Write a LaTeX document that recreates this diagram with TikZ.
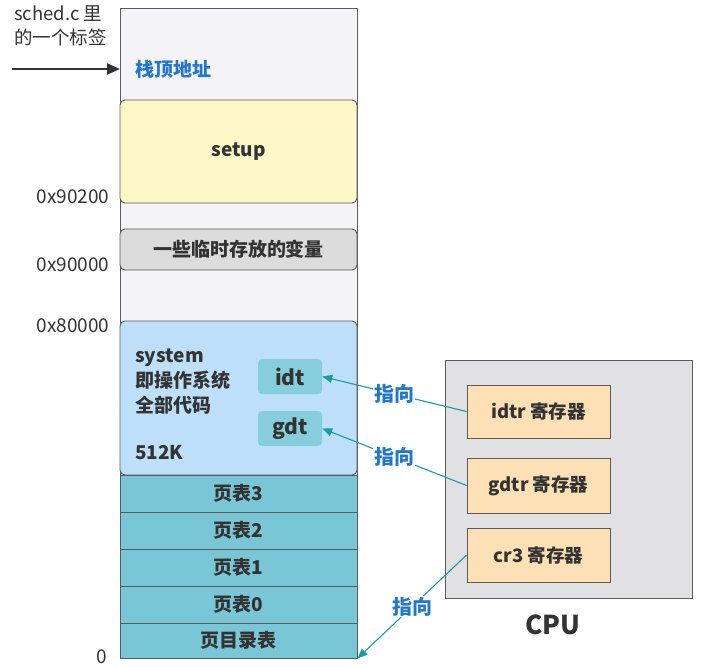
\documentclass[tikz,border=0pt]{standalone}
\usepackage{fontspec}
\setmainfont{Noto Sans CJK SC}
\usetikzlibrary{arrows.meta}
\definecolor{colbg}{HTML}{F4F4F6}
\definecolor{setupc}{HTML}{FDF6C6}
\definecolor{tempc}{HTML}{DCDCDD}
\definecolor{sysc}{HTML}{BEDFFA}
\definecolor{tblc}{HTML}{79C6D6}
\definecolor{dtc}{HTML}{86CEDC}
\definecolor{cpuc}{HTML}{E1E1E4}
\definecolor{regc}{HTML}{FDE0B5}
\definecolor{bordc}{HTML}{5A5A5F}
\definecolor{arrc}{HTML}{1B9AA8}
\definecolor{bluet}{HTML}{2277CC}
\definecolor{txt}{HTML}{333333}
\begin{document}
\begin{tikzpicture}[x=1pt,y=-1pt,
  blk/.style={draw=bordc,line width=0.9pt,rounded corners=5pt,minimum width=237pt,inner sep=0pt,font=\bfseries\fontsize{19}{21}\selectfont,text=txt},
  row/.style={draw=bordc,line width=0.9pt,fill=tblc,minimum width=237pt,inner sep=0pt,font=\bfseries\fontsize{19}{21}\selectfont,text=txt},
  dt/.style={fill=dtc,rounded corners=4pt,minimum width=64pt,minimum height=35pt,inner sep=0pt,font=\bfseries\fontsize{21}{23}\selectfont,text=txt},
  reg/.style={draw=bordc,line width=0.9pt,fill=regc,minimum width=143pt,inner sep=0pt,font=\bfseries\fontsize{18.5}{20}\selectfont,text=txt},
  addr/.style={anchor=east,font=\fontsize{19}{21}\selectfont,text=txt},
  ptr/.style={draw=arrc,line width=1.1pt,-{Triangle[length=10pt,width=8pt]}},
  ptrlbl/.style={fill=white,inner sep=1pt,text=bluet,font=\bfseries\fontsize{20}{22}\selectfont}
]
\useasboundingbox (0,0) rectangle (705,667);
% memory column
\node[draw=bordc,line width=0.9pt,fill=colbg,minimum width=237pt,minimum height=650pt,inner sep=0pt] (col) at (238.5,333) {};
\node[blk,fill=setupc,minimum height=103pt] (setup) at (238.5,151.5) {setup};
\node[blk,fill=tempc,minimum height=41pt] (temp) at (238.5,249.5) {一些临时存放的变量};
\node[blk,fill=sysc,minimum height=154pt] (sys) at (238.5,398) {};
\node[anchor=north west,align=left,inner sep=0pt,text=txt,font=\bfseries\fontsize{19}{25}\selectfont] (systxt) at (135,349) {system\\即操作系统\\全部代码};
\node[anchor=west,inner sep=0pt,text=txt,font=\bfseries\fontsize{19}{21}\selectfont] (size) at (135,453) {512K};
\node[dt] (idt) at (290,376.5) {idt};
\node[dt] (gdt) at (290,428.5) {gdt};
\node[row,minimum height=37pt] (p3) at (238.5,493.5) {页表3};
\node[row,minimum height=37pt] (p2) at (238.5,530.5) {页表2};
\node[row,minimum height=37pt] (p1) at (238.5,567.5) {页表1};
\node[row,minimum height=37pt] (p0) at (238.5,604.5) {页表0};
\node[row,minimum height=35pt] (pd) at (238.5,640.5) {页目录表};
% stack top
\node[anchor=west,inner sep=0pt,text=bluet,font=\bfseries\fontsize{19}{21}\selectfont] (stk) at (135,69) {栈顶地址};
\node[anchor=north west,align=left,inner sep=0pt,text=txt,font=\fontsize{18.5}{24}\selectfont] (sched) at (14,5) {sched.c 里\\的一个标签};
\coordinate (sstart) at (12,69);
\coordinate (send) at (120,69);
\draw[line width=2.2pt,draw=txt,-{Triangle[length=13pt,width=11pt]}] (sstart) -- (send);
% addresses
\node[addr] (a1) at (113,197) {0x90200};
\node[addr] (a2) at (113,265) {0x90000};
\node[addr] (a3) at (113,326) {0x80000};
\node[addr] (a4) at (111,657) {0};
% CPU
\node[draw=bordc,line width=0.9pt,fill=cpuc,minimum width=247pt,minimum height=238pt,inner sep=0pt] (cpu) at (568.5,479) {};
\node[reg,minimum height=53pt] (idtr) at (538.5,411.5) {idtr 寄存器};
\node[reg,minimum height=55pt] (gdtr) at (538.5,485.5) {gdtr 寄存器};
\node[reg,minimum height=54pt] (cr3) at (538.5,555) {cr3 寄存器};
\node[text=txt,font=\bfseries\fontsize{26}{28}\selectfont] (cpul) at (553,625) {CPU};
% pointers
\draw[ptr] (idtr.west) -- node[ptrlbl] {指向} (idt.east);
\draw[ptr] (gdtr.west) -- node[ptrlbl] {指向} (gdt.east);
\draw[ptr] (cr3.west) -- node[ptrlbl,pos=0.5] {指向} (pd.south east);
\end{tikzpicture}
\end{document}
